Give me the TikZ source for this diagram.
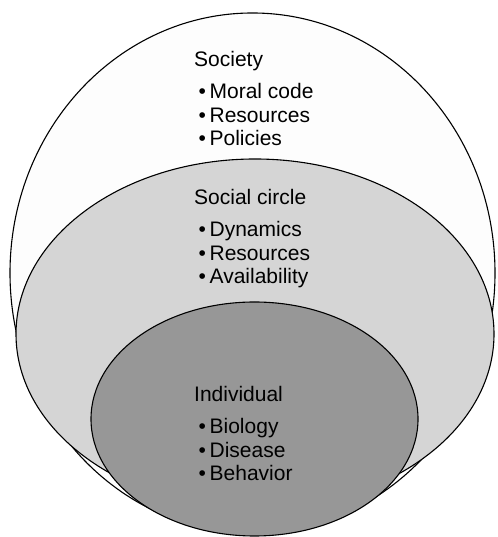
\documentclass[tikz,border=0pt]{standalone}
\usepackage{fontspec}
\setmainfont{Liberation Sans}
\usetikzlibrary{shapes.geometric,positioning}
\definecolor{societyfill}{HTML}{FDFDFD}
\definecolor{circlefill}{HTML}{D5D5D5}
\definecolor{individualfill}{HTML}{979797}
\tikzset {
ring/.style={shape=ellipse,draw,line width=1.1pt,inner sep=0pt,outer sep=0pt},
heading/.style={anchor=base west,inner sep=0pt,font=\fontsize{21}{23.5}\selectfont},
point/.style={heading,below=23.5pt of #1.base west,anchor=base west}
}
\newcommand{\bulletitem}[1]{\textbullet\hspace{3.6pt}#1}

\begin{document}
\begin{tikzpicture}
[x=1pt,y=1pt]
\useasboundingbox (0,0) rectangle (497,537);
\node[ring,fill=societyfill,minimum width=485pt,minimum height=520pt] (society) at (252.5,264) {};
\node[ring,fill=circlefill,minimum width=478pt,minimum height=350pt] (social circle) at (255,203) {};
\node[ring,fill=individualfill,minimum width=327pt,minimum height=234pt] (individual) at (254.5,118) {};

\node[heading] (society title) at (194,470) {Society};
\node[heading] (society 1) [below=32pt of society title.base west,anchor=base west,xshift=4.5pt] {\bulletitem{Moral code}};
\node[point=society 1] (society 2) {\bulletitem{Resources}};
\node[point=society 2] (society 3) {\bulletitem{Policies}};

\node[heading] (circle title) at (194,332) {Social circle};
\node[heading] (circle 1) [below=32pt of circle title.base west,anchor=base west,xshift=4.5pt] {\bulletitem{Dynamics}};
\node[point=circle 1] (circle 2) {\bulletitem{Resources}};
\node[point=circle 2] (circle 3) {\bulletitem{Availability}};

\node[heading] (individual title) at (194,135) {Individual};
\node[heading] (individual 1) [below=32pt of individual title.base west,anchor=base west,xshift=4.5pt] {\bulletitem{Biology}};
\node[point=individual 1] (individual 2) {\bulletitem{Disease}};
\node[point=individual 2] (individual 3) {\bulletitem{Behavior}};
\end{tikzpicture}
\end{document}
